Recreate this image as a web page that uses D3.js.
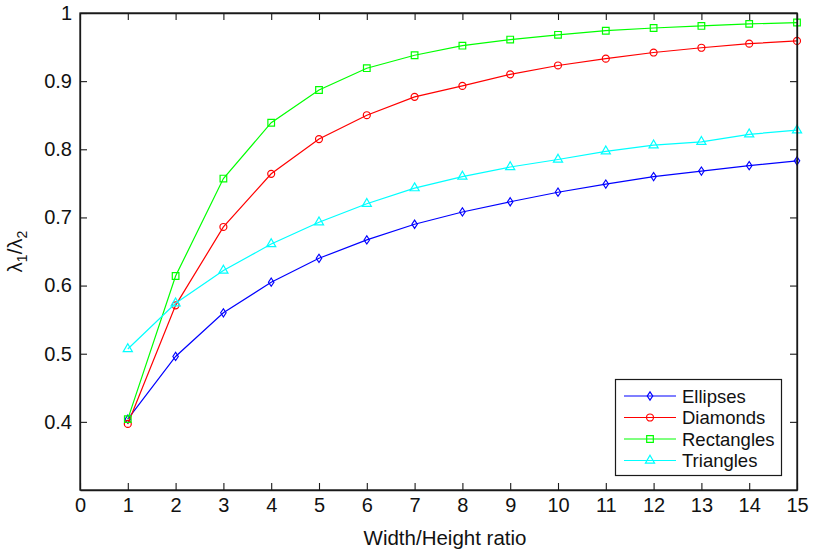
<!DOCTYPE html>
<html>
<head>
<meta charset="utf-8">
<script src="https://cdn.jsdelivr.net/npm/d3@7"></script>
<style>
  html, body { margin: 0; padding: 0; background: #fff; }
  svg { display: block; font-family: "Liberation Sans", Arial, Helvetica, sans-serif; }
</style>
</head>
<body>
<svg id="chart" width="816" height="554"></svg>
<script>
// Width/height ratio of the shape
const ratios = [1, 2, 3, 4, 5, 6, 7, 8, 9, 10, 11, 12, 13, 14, 15];

// Eigenvalue ratio lambda1/lambda2 per shape family
const ellipses   = [0.404, 0.496, 0.560, 0.605, 0.640, 0.667, 0.690, 0.708, 0.723, 0.737, 0.749, 0.760, 0.768, 0.776, 0.783];
const diamonds   = [0.397, 0.571, 0.686, 0.764, 0.815, 0.850, 0.877, 0.893, 0.910, 0.923, 0.933, 0.942, 0.949, 0.955, 0.959];
const rectangles = [0.404, 0.614, 0.757, 0.839, 0.887, 0.919, 0.938, 0.952, 0.961, 0.968, 0.974, 0.978, 0.981, 0.984, 0.986];
const triangles  = [0.507, 0.574, 0.622, 0.661, 0.693, 0.720, 0.743, 0.760, 0.774, 0.785, 0.797, 0.806, 0.811, 0.822, 0.828];

const seriesNames = ["Ellipses", "Diamonds", "Rectangles", "Triangles"];
const xTicks = [0, 1, 2, 3, 4, 5, 6, 7, 8, 9, 10, 11, 12, 13, 14, 15];
const yTicks = [0.4, 0.5, 0.6, 0.7, 0.8, 0.9, 1];

const series = [
  { name: seriesNames[0], values: ellipses,   color: "#0000ff", marker: "diamond" },
  { name: seriesNames[1], values: diamonds,   color: "#ff0000", marker: "circle" },
  { name: seriesNames[2], values: rectangles, color: "#00ff00", marker: "square" },
  { name: seriesNames[3], values: triangles,  color: "#00ffff", marker: "triangle" }
];

const svg = d3.select("#chart");
const m = { left: 80, right: 19, top: 13, bottom: 64 };
const W = 816, H = 554;
const x = d3.scaleLinear().domain([0, 15]).range([m.left, W - m.right]);
const y = d3.scaleLinear().domain([0.3, 1]).range([H - m.bottom, m.top]);

const axisColor = "#1a1a1a";
const tickFont = 20;
const labelFont = 20.5;
const legendFont = 18.5;

// Series lines and markers
const line = d3.line().x((d, i) => x(ratios[i])).y(d => y(d));
const markerPath = {
  diamond:  d3.symbol().type(d3.symbolDiamond2 || d3.symbolDiamond).size(30),
  circle:   d3.symbol().type(d3.symbolCircle).size(38),
  square:   d3.symbol().type(d3.symbolSquare).size(44),
  triangle: d3.symbol().type(d3.symbolTriangle).size(36)
};

const plot = svg.append("g");
series.forEach(s => {
  plot.append("path")
    .datum(s.values)
    .attr("d", line)
    .attr("fill", "none")
    .attr("stroke", s.color)
    .attr("stroke-width", 1.2);
  plot.selectAll(null)
    .data(s.values)
    .enter().append("path")
    .attr("transform", (d, i) => `translate(${x(ratios[i])},${y(d)})` + (s.marker === "diamond" ? " scale(0.8,1.2)" : ""))
    .attr("d", markerPath[s.marker]())
    .attr("fill", "none")
    .attr("stroke", s.color)
    .attr("stroke-width", 1.2);
});

// Axes box with inward ticks
const tickLen = 7;
const gBottom = svg.append("g").attr("transform", `translate(0,${y(0.3)})`)
  .call(d3.axisBottom(x).tickValues(xTicks).tickSizeInner(-tickLen).tickSizeOuter(0).tickPadding(8).tickFormat(d3.format("d")));
const gTop = svg.append("g").attr("transform", `translate(0,${y(1)})`)
  .call(d3.axisTop(x).tickValues(xTicks).tickSizeInner(-tickLen).tickSizeOuter(0).tickFormat(""));
const gLeft = svg.append("g").attr("transform", `translate(${x(0)},0)`)
  .call(d3.axisLeft(y).tickValues(yTicks).tickSizeInner(-tickLen).tickSizeOuter(0).tickPadding(8).tickFormat(d => d === 1 ? "1" : d3.format(".1f")(d)));
const gRight = svg.append("g").attr("transform", `translate(${x(15)},0)`)
  .call(d3.axisRight(y).tickValues(yTicks).tickSizeInner(-tickLen).tickSizeOuter(0).tickFormat(""));

[gBottom, gTop, gLeft, gRight].forEach(g => {
  g.select(".domain").attr("stroke", axisColor).attr("stroke-width", 1.3);
  g.selectAll(".tick line").attr("stroke", axisColor).attr("stroke-width", 1.1);
  g.selectAll(".tick text").attr("fill", "#111").style("font-size", tickFont + "px").style("font-family", "'Liberation Sans', Arial, sans-serif");
});
// Closing the corners of the box
svg.append("rect")
  .attr("x", x(0)).attr("y", y(1))
  .attr("width", x(15) - x(0)).attr("height", y(0.3) - y(1))
  .attr("fill", "none").attr("stroke", axisColor).attr("stroke-width", 1.3);

// Axis titles
svg.append("text")
  .attr("x", 445)
  .attr("y", 545)
  .attr("text-anchor", "middle")
  .attr("fill", "#111")
  .style("font-size", labelFont + "px")
  .text("Width/Height ratio");

const yl = svg.append("text")
  .attr("transform", `translate(22,${(y(0.3) + y(1)) / 2}) rotate(-90)`)
  .attr("text-anchor", "middle")
  .attr("fill", "#111")
  .style("font-size", labelFont + "px");
yl.append("tspan").text("λ");
yl.append("tspan").attr("dy", 5).style("font-size", "14px").text("1");
yl.append("tspan").attr("dy", -5).text("/λ");
yl.append("tspan").attr("dy", 5).style("font-size", "14px").text("2");

// Legend
const lg = svg.append("g");
lg.append("rect")
  .attr("x", 615.5).attr("y", 379.5).attr("width", 166).attr("height", 96)
  .attr("fill", "#fff").attr("stroke", axisColor).attr("stroke-width", 1.2);
series.forEach((s, i) => {
  const cy = 396 + i * 21.5;
  lg.append("line")
    .attr("x1", 624).attr("x2", 676).attr("y1", cy).attr("y2", cy)
    .attr("stroke", s.color).attr("stroke-width", 1.2);
  lg.append("path")
    .attr("transform", `translate(650,${cy})` + (s.marker === "diamond" ? " scale(0.8,1.2)" : ""))
    .attr("d", markerPath[s.marker]())
    .attr("fill", "none").attr("stroke", s.color).attr("stroke-width", 1.2);
  lg.append("text")
    .attr("x", 682).attr("y", cy + 6.5)
    .attr("fill", "#111")
    .style("font-size", legendFont + "px")
    .text(s.name);
});
</script>
</body>
</html>
